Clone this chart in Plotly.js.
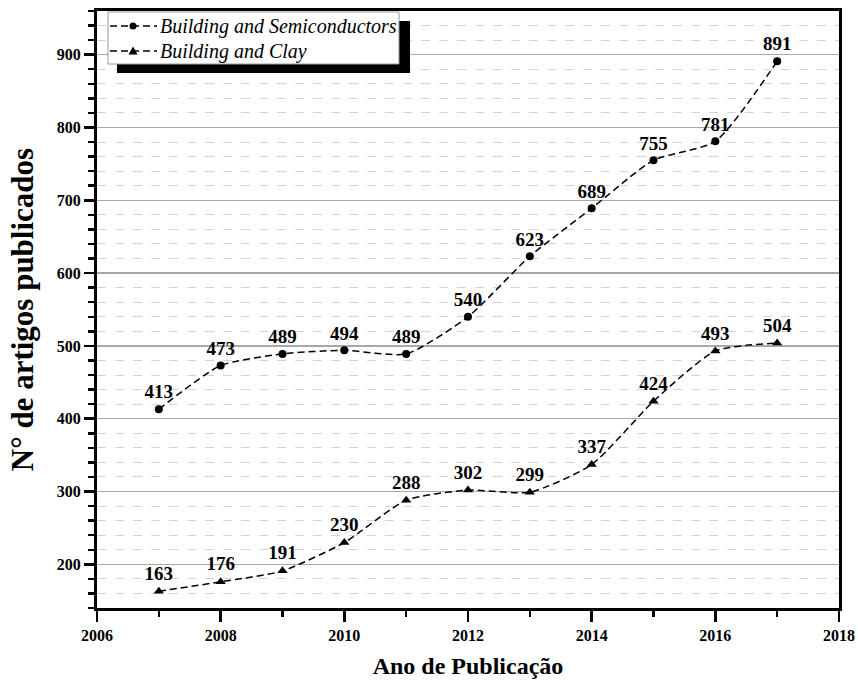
<!DOCTYPE html>
<html>
<head>
<meta charset="utf-8">
<script src="https://cdn.plot.ly/plotly-3.0.1.min.js"></script>
<style>html,body{margin:0;padding:0;background:#fff}#chart{width:858px;height:682px}</style>
</head>
<body>
<div id="chart"></div>
<script>
const years = [2007, 2008, 2009, 2010, 2011, 2012, 2013, 2014, 2015, 2016, 2017];
const semiconductors = [413, 473, 489, 494, 489, 540, 623, 689, 755, 781, 891];
const clay = [163, 176, 191, 230, 288, 302, 299, 337, 424, 493, 504];
const seriesNames = ["Building and Semiconductors", "Building and Clay"];
const xTicks = [2006, 2008, 2010, 2012, 2014, 2016, 2018];
const yTicks = [200, 300, 400, 500, 600, 700, 800, 900];

const font = "Liberation Serif";
const W = 858, H = 682, ML = 97, MR = 19, MT = 11, MB = 74;
const PW = W - ML - MR, PH = H - MT - MB;
const PX = X => (X - ML) / PW;
const PY = Y => 1 - (Y - MT) / PH;
const DASH = "7px,4px";

const mk = (x, y, name, sym, size) => ({
  x: x, y: y, name: name, type: "scatter", mode: "lines+markers+text",
  text: y.map(String), textposition: "top center",
  textfont: {family: font, size: 19, color: "#000", weight: "bold"},
  line: {color: "#000", width: 1.5, dash: DASH, shape: "spline", smoothing: 0.6},
  marker: {symbol: sym, size: size, color: "#000"},
  showlegend: false
});

const data = [
  mk(years, semiconductors, seriesNames[0], "circle", 8),
  mk(years, clay, seriesNames[1], "triangle-up", 9)
];

// hand-drawn legend (box with drop shadow, as in the reference)
const rows = [26, 51];
const shapes = [
  {type: "rect", xref: "paper", yref: "paper", layer: "above",
   x0: PX(117), x1: PX(410), y0: PY(73), y1: PY(21), fillcolor: "#000", line: {width: 0}},
  {type: "rect", xref: "paper", yref: "paper", layer: "above",
   x0: PX(108), x1: PX(399), y0: PY(64), y1: PY(12), fillcolor: "#fff", line: {width: 1, color: "#999"}}
];
const annotations = [];
rows.forEach((ry, i) => {
  shapes.push({type: "line", xref: "paper", yref: "paper", layer: "above",
    x0: PX(110), x1: PX(157), y0: PY(ry), y1: PY(ry), line: {color: "#000", width: 1.5, dash: DASH}});
  if (i === 0) {
    shapes.push({type: "circle", xref: "paper", yref: "paper", layer: "above",
      x0: PX(129.5), x1: PX(136.5), y0: PY(ry + 3.5), y1: PY(ry - 3.5), fillcolor: "#000", line: {width: 0}});
  } else {
    shapes.push({type: "path", xref: "paper", yref: "paper", layer: "above",
      path: `M ${PX(128.5)} ${PY(ry + 3.5)} L ${PX(137.5)} ${PY(ry + 3.5)} L ${PX(133)} ${PY(ry - 4.5)} Z`,
      fillcolor: "#000", line: {width: 0}});
  }
  annotations.push({xref: "paper", yref: "paper", x: PX(158), y: PY(ry), xanchor: "left", yanchor: "middle",
    text: "<i>" + seriesNames[i] + "</i>", showarrow: false,
    font: {family: font, size: 20, color: "#000", style: "italic"}});
});

const layout = {
  width: W, height: H,
  margin: {l: ML, r: MR, t: MT, b: MB},
  paper_bgcolor: "#fff", plot_bgcolor: "#fff",
  font: {family: font, color: "#000"},
  showlegend: false,
  xaxis: {
    range: [2006, 2018], tickvals: xTicks, ticktext: xTicks.map(String),
    ticks: "outside", ticklen: 11, tickwidth: 2.5, tickcolor: "#000",
    showline: true, linewidth: 3, linecolor: "#000", mirror: true,
    showgrid: false, zeroline: false,
    tickfont: {family: font, size: 16, color: "#000", weight: "bold"},
    minor: {dtick: 1, tick0: 2006, ticks: "outside", ticklen: 6, tickwidth: 2.5, tickcolor: "#000", showgrid: false},
    title: {text: "Ano de Publicação", font: {family: font, size: 24, color: "#000", weight: "bold"}, standoff: 14}
  },
  yaxis: {
    range: [140, 960], tickvals: yTicks, ticktext: yTicks.map(String),
    ticks: "outside", ticklen: 10, tickwidth: 2.5, tickcolor: "#000",
    showline: true, linewidth: 3, linecolor: "#000", mirror: true,
    showgrid: true, gridcolor: "#a8a8a8", gridwidth: 1.5, zeroline: false,
    tickfont: {family: font, size: 16, color: "#000", weight: "bold"},
    minor: {dtick: 20, tick0: 0, ticks: "outside", ticklen: 6, tickwidth: 2.5, tickcolor: "#000",
            showgrid: true, gridcolor: "#d4d4d4", gridwidth: 1, griddash: "dash"},
    title: {text: "N° de artigos publicados", font: {family: font, size: 31, color: "#000", weight: "bold"}, standoff: 14}
  },
  shapes: shapes,
  annotations: annotations
};

Plotly.newPlot("chart", data, layout, {displayModeBar: false, staticPlot: true});
</script>
</body>
</html>
